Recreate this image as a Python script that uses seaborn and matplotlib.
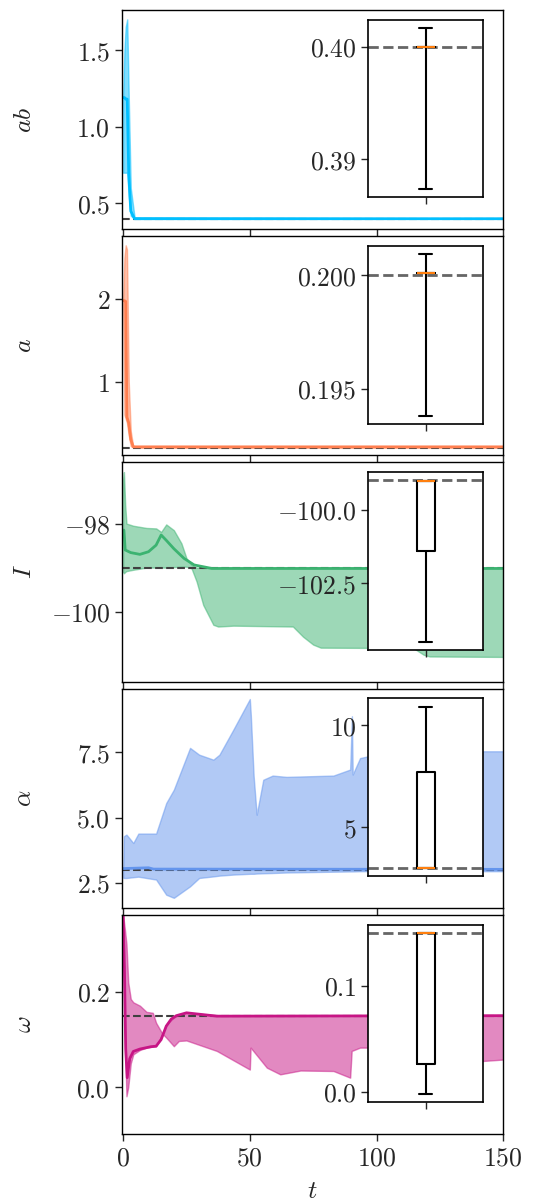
import matplotlib
matplotlib.use("Agg")
import matplotlib.pyplot as plt
import seaborn as sns

# ---------------- data ----------------
labels = ["$ab$", "$a$", "$I$", "$\\alpha$", "$\\omega$"]
colors = ["#00bfff", "#ff7f50", "#3cb371", "#6495ed", "#c71585"]
truth = [0.4, 0.2, -99.0, 3.0, 0.15]

# panel ab
t_ab = [0, 0.5, 1.0, 1.6, 2.2, 3.0, 4.5, 150]
up_ab = [1.2, 1.5, 1.65, 1.70, 1.2, 0.6, 0.41, 0.40]
lo_ab = [0.7, 0.7, 0.7, 0.7, 0.55, 0.42, 0.40, 0.40]
tm_ab = [0, 0.5, 1.0, 1.6, 2.2, 3.0, 4.5, 150]
m_ab = [1.19, 1.19, 1.18, 1.18, 0.70, 0.45, 0.40, 0.40]

# panel a
t_a = [0, 0.5, 1.0, 1.5, 2.2, 3.0, 4.0, 150]
up_a = [2.0, 2.5, 2.65, 2.6, 1.0, 0.4, 0.21, 0.21]
lo_a = [1.9, 0.6, 0.55, 0.5, 0.35, 0.22, 0.20, 0.20]
tm_a = [0, 0.5, 1.0, 1.5, 2.2, 3.0, 4.0, 150]
m_a = [1.98, 1.98, 1.97, 0.57, 0.5, 0.3, 0.21, 0.21]

# panel I
t_I = [0, 0.3, 0.8, 1.3, 4, 9.2, 13, 15, 17, 20, 23, 25, 27, 29, 31.6, 35.6,
       37.5, 43.5, 67, 71, 75, 78, 114.6, 118.6, 121, 150]
up_I = [-97.0, -96.83, -97.58, -98.0, -98.05, -98.1, -98.11, -98.19, -98.02,
        -98.15, -98.45, -98.79, -98.94, -99.0, -99.01, -99.01, -99.01, -99.01,
        -99.01, -99.01, -99.01, -99.01, -99.01, -99.01, -99.01, -99.01]
lo_I = [-99.1, -99.13, -99.1, -99.08, -99.05, -99.0, -99.0, -99.0, -99.0,
        -98.99, -98.98, -98.98, -99.02, -99.32, -99.85, -100.3, -100.34,
        -100.32, -100.34, -100.57, -100.75, -100.82, -100.83, -100.98,
        -101.02, -101.03]
tm_I = [0, 0.3, 0.8, 3, 6.6, 10, 13, 15, 17, 20, 24, 28, 35, 150]
m_I = [-98.15, -98.15, -98.6, -98.66, -98.7, -98.64, -98.49, -98.26, -98.38,
       -98.57, -98.79, -98.94, -99.02, -99.02]

# panel alpha
t_al = [0, 0.3, 1.3, 4, 6, 13, 17, 20, 26.4, 30, 35.6, 38, 43.5, 50, 50.4,
        51.5, 52.7, 55.3, 59, 64.5, 83, 89.6, 90.3, 90.6, 93.5, 96.8, 142, 150]
up_al = [2.9, 4.29, 4.35, 4.03, 4.39, 4.39, 5.56, 6.07, 7.67, 7.41, 7.22,
         7.41, 8.37, 9.54, 8.9, 6.6, 5.11, 6.45, 6.61, 6.56, 6.61, 6.84, 8.88,
         6.65, 7.28, 7.35, 7.54, 7.54]
lo_al = [2.7, 2.69, 2.69, 2.72, 2.74, 2.63, 2.05, 1.93, 2.37, 2.69, 2.75,
         2.78, 2.82, 2.85, 2.85, 2.85, 2.86, 2.87, 2.88, 2.9, 2.93, 2.94, 2.94,
         2.94, 2.95, 2.95, 2.95, 2.95]
tm_al = [0, 10, 12, 150]
m_al = [3.05, 3.08, 3.03, 3.02]

# panel omega
t_om = [0, 0.7, 1.3, 2, 3, 4, 6.6, 9.2, 11.7, 13, 15.5, 17, 20, 22, 25, 37,
        50, 50.3, 56.7, 62, 70, 83, 89.6, 90.2, 93.5, 97, 142, 150]
up_om = [0.36, 0.33, 0.30, 0.22, 0.185, 0.178, 0.171, 0.158, 0.156, 0.135,
         0.112, 0.132, 0.146, 0.152, 0.156, 0.151, 0.150, 0.150, 0.150, 0.150,
         0.150, 0.150, 0.150, 0.150, 0.150, 0.150, 0.150, 0.150]
lo_om = [0.30, 0.10, -0.019, 0.0, 0.05, 0.069, 0.078, 0.083, 0.085, 0.086,
         0.112, 0.104, 0.086, 0.097, 0.098, 0.076, 0.037, 0.083, 0.041, 0.027,
         0.035, 0.034, 0.020, 0.076, 0.083, 0.083, 0.055, 0.058]
tm_om = [0, 0.5, 1.0, 1.6, 2.6, 4, 6.6, 11, 13, 15, 17, 19, 21, 25, 37, 150]
m_om = [0.36, 0.25, 0.08, 0.02, 0.06, 0.075, 0.08, 0.085, 0.086, 0.1, 0.128,
        0.143, 0.15, 0.156, 0.149, 0.15]

# inset box statistics (final values)
box_lo = [0.3873, 0.19383, -104.5, 3.0, -0.0023]
box_q1 = [0.39999, 0.20008, -101.41, 3.0, 0.0264]
box_med = [0.40002, 0.2001, -99.02, 3.0, 0.15]
box_q3 = [0.40004, 0.20011, -99.02, 7.72, 0.15]
box_hi = [0.4017, 0.20092, -99.02, 10.92, 0.15]

# ticks
xticks = [0, 50, 100, 150]
xticklabels = ["0", "50", "100", "150"]
yticks = [[0.5, 1.0, 1.5], [1, 2], [-100, -98], [2.5, 5.0, 7.5], [0.0, 0.2]]
yticklabels = [["0.5", "1.0", "1.5"], ["1", "2"], ["-100", "-98"],
               ["2.5", "5.0", "7.5"], ["0.0", "0.2"]]
ylims = [(0.332, 1.761), (0.107, 2.76), (-101.59, -96.61), (1.55, 9.94),
         (-0.098, 0.3615)]
in_yticks = [[0.39, 0.40], [0.195, 0.200], [-102.5, -100.0], [5, 10], [0.0, 0.1]]
in_yticklabels = [["0.39", "0.40"], ["0.195", "0.200"], ["-102.5", "-100.0"],
                  ["5", "10"], ["0.0", "0.1"]]

bands = [(t_ab, lo_ab, up_ab), (t_a, lo_a, up_a), (t_I, lo_I, up_I),
         (t_al, lo_al, up_al), (t_om, lo_om, up_om)]
means = [(tm_ab, m_ab), (tm_a, m_a), (tm_I, m_I), (tm_al, m_al), (tm_om, m_om)]

# ---------------- style ----------------
sns.set_theme(style="ticks")
plt.rcParams["font.family"] = ["DejaVu Serif"]
plt.rcParams["mathtext.fontset"] = "cm"
plt.rcParams["axes.linewidth"] = 1.0
plt.rcParams["xtick.major.width"] = 1.0
plt.rcParams["ytick.major.width"] = 1.0
plt.rcParams["xtick.major.size"] = 5
plt.rcParams["ytick.major.size"] = 5
plt.rcParams["axes.edgecolor"] = "black"

FS = 18.5

fig, axes = plt.subplots(5, 1, figsize=(5.37, 12.02), dpi=100, sharex=True)
fig.subplots_adjust(left=0.227, right=0.937, top=0.9917, bottom=0.0566,
                    hspace=0.032)

for i, ax in enumerate(axes):
    c = colors[i]
    t, lo, up = bands[i]
    ax.fill_between(t, lo, up, color=c, alpha=0.5, lw=1, zorder=1)
    ax.axhline(truth[i], color="0.25", ls="--", lw=1.5, zorder=1.5)
    tm, m = means[i]
    sns.lineplot(x=tm, y=m, ax=ax, color=c, lw=2, estimator=None, sort=False,
                 zorder=2)
    ax.set_xlim(-0.5, 150)
    ax.set_ylim(*ylims[i])
    ax.set_yticks(yticks[i])
    ax.set_yticklabels(["$%s$" % s for s in yticklabels[i]], fontsize=FS)
    ax.set_xticks(xticks)
    ax.set_ylabel(labels[i], fontsize=FS)
    ax.yaxis.set_label_coords(-0.225, 0.5)
    for sp in ax.spines.values():
        sp.set_color("black")

    ins = ax.inset_axes([0.646, 0.145, 0.302, 0.81])
    ins.set_facecolor("white")
    ins.axhline(truth[i], color="0.4", ls="--", lw=2, zorder=1)
    stats = [dict(med=box_med[i], q1=box_q1[i], q3=box_q3[i],
                  whislo=box_lo[i], whishi=box_hi[i], fliers=[])]
    ins.bxp(stats, positions=[0], widths=0.16, capwidths=[0.11],
            showfliers=False,
            boxprops=dict(color="black", lw=1.5),
            whiskerprops=dict(color="black", lw=1.5),
            capprops=dict(color="black", lw=1.5),
            medianprops=dict(color="#ff7f0e", lw=1.5))
    ins.set_xlim(-0.5, 0.5)
    ins.set_xticks([0])
    ins.set_xticklabels([""])
    ins.set_yticks(in_yticks[i])
    ins.set_yticklabels(["$%s$" % s for s in in_yticklabels[i]], fontsize=FS)
    for sp in ins.spines.values():
        sp.set_color("black")
        sp.set_linewidth(1.2)

axes[-1].set_xticklabels(["$%s$" % s for s in xticklabels], fontsize=FS)
axes[-1].set_xlabel("$t$", fontsize=FS)
axes[-1].xaxis.set_label_coords(0.5, -0.2)

fig.savefig("out.png", dpi=100)
